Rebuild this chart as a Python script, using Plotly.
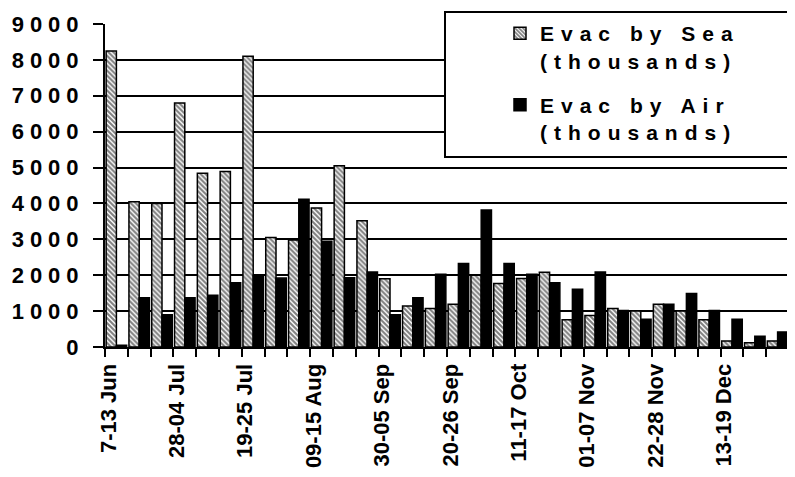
import plotly.graph_objects as go

weeks = ["7-13 Jun", "14-20 Jun", "21-27 Jun", "28-04 Jul", "05-11 Jul", "12-18 Jul",
         "19-25 Jul", "26-01 Aug", "02-08 Aug", "09-15 Aug", "16-22 Aug", "23-29 Aug",
         "30-05 Sep", "06-12 Sep", "13-19 Sep", "20-26 Sep", "27-03 Oct", "04-10 Oct",
         "11-17 Oct", "18-24 Oct", "25-31 Oct", "01-07 Nov", "08-14 Nov", "15-21 Nov",
         "22-28 Nov", "29-05 Dec", "06-12 Dec", "13-19 Dec", "20-26 Dec", "27-02 Jan"]

sea = [8250, 4050, 4000, 6800, 4840, 4890, 8100, 3050, 2980, 3870, 5050, 3520,
       1900, 1140, 1070, 1190, 2000, 1770, 1910, 2080, 760, 880, 1070, 1000,
       1190, 1000, 760, 170, 120, 170]
air = [50, 1370, 900, 1370, 1440, 1790, 2000, 1920, 4120, 2950, 1930, 2090,
       900, 1370, 2030, 2330, 3820, 2330, 2030, 1790, 1610, 2090, 1020, 770,
       1190, 1490, 1020, 770, 300, 420]

shown_labels = ["7-13 Jun", "28-04 Jul", "19-25 Jul", "09-15 Aug", "30-05 Sep",
                "20-26 Sep", "11-17 Oct", "01-07 Nov", "22-28 Nov", "13-19 Dec"]
y_ticks = [0, 1000, 2000, 3000, 4000, 5000, 6000, 7000, 8000, 9000]

series_names = ["Evac by Sea<br>(thousands)", "Evac by Air<br>(thousands)"]

FONT = "Liberation Sans, Arial, sans-serif"

# page body has an 8px margin: figure drawn at (8, 8)
OFF = 8
W, H = 795 - OFF, 477 - OFF
PX0, PX1, PY0, PY1 = 105 - OFF, 789 - OFF, 24 - OFF, 347 - OFF   # plot area in figure px
PW, PH = PX1 - PX0, PY1 - PY0


def spaced(t, px):
    return f'<b><span style="font-weight:bold;letter-spacing:{px}px">{t}</span></b>'


def paper_x(px):
    return (px - OFF - PX0) / PW


def paper_y(py):
    return (PY1 - (py - OFF)) / PH


fig = go.Figure()
fig.add_trace(go.Bar(
    x=weeks, y=sea, name=spaced(series_names[0], 7), legendgroup="sea",
    marker=dict(color="white",
                line=dict(color="black", width=1.5),
                pattern=dict(shape="\\", fgcolor="black", bgcolor="white",
                             size=3.5, solidity=0.6)),
))
fig.add_trace(go.Bar(
    x=weeks, y=air, name=spaced(series_names[1], 7), legendgroup="air",
    marker=dict(color="black", line=dict(color="black", width=1.5)),
))

fig.update_layout(
    width=W, height=H,
    margin=dict(l=PX0, r=W - PX1, t=PY0, b=H - PY1, autoexpand=False),
    paper_bgcolor="white", plot_bgcolor="white",
    barmode="group", bargap=0.1, bargroupgap=0,
    font=dict(family=FONT, color="black"),
    showlegend=True,
    legend=dict(x=paper_x(500), y=paper_y(13), xanchor="left", yanchor="top",
                bgcolor="rgba(0,0,0,0)", borderwidth=0,
                valign="top", tracegroupgap=14,
                font=dict(family=FONT, size=21, color="black", weight="bold")),
    shapes=[dict(type="rect", xref="paper", yref="paper",
                 x0=paper_x(445), x1=paper_x(810), y0=paper_y(157), y1=paper_y(12),
                 fillcolor="white", line=dict(color="black", width=2), layer="above")],
)

fig.update_xaxes(
    type="category",
    tickmode="array",
    tickvals=weeks,
    ticktext=[f"<b>{w}</b>" if w in shown_labels else "" for w in weeks],
    tickson="boundaries",
    ticks="outside", ticklen=8, tickwidth=2, tickcolor="black",
    tickangle=-90,
    ticklabelshift=-8,
    ticklabelstandoff=6,
    tickfont=dict(family=FONT, size=22, color="black"),
    showline=True, linecolor="black", linewidth=2,
    showgrid=False,
)
fig.update_yaxes(
    range=[0, 9000],
    tickmode="array",
    tickvals=y_ticks,
    ticktext=[spaced(str(v), 6) for v in y_ticks],
    ticks="outside", ticklen=10, tickwidth=2, tickcolor="black",
    ticklabelstandoff=4,
    tickfont=dict(family=FONT, size=22, color="black"),
    showline=True, linecolor="black", linewidth=2,
    showgrid=True, gridcolor="black", gridwidth=1.5,
    zeroline=False,
)

fig.write_html("out.html")
